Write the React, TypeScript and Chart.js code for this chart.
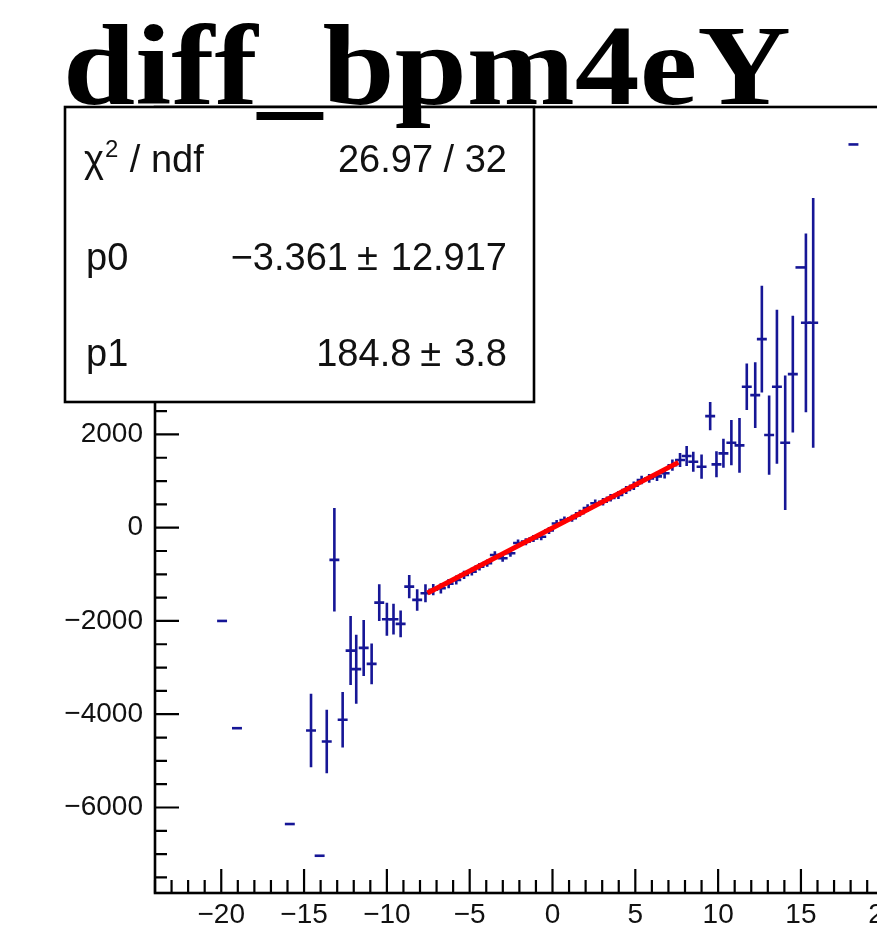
import React, { useEffect, useRef } from 'react';
import { Chart, registerables } from 'chart.js';

Chart.register(...registerables);

// ---------- data ----------
const titleText = 'diff_bpm4eY';

const X_MIN = -24;
const X_MAX = 24;
const Y_MIN = -7834;
const Y_MAX = 9021;

const xTickValues = [-20, -15, -10, -5, 0, 5, 10, 15, 20];
const yTickValues = [-6000, -4000, -2000, 0, 2000, 4000, 6000, 8000];

const binHalfWidth = 0.3;

const xVals = [
  -19.95, -19.05, -15.86, -14.58, -14.06, -13.63, -13.17, -12.67, -12.19, -11.85,
  -11.4, -10.92, -10.46, -10.0, -9.6, -9.17, -8.65, -8.17,
  -7.67, -7.2, -6.74, -6.27, -5.81, -5.34, -4.87, -4.41, -3.94, -3.48,
  -3.01, -2.54, -2.08, -1.61, -1.15, -0.68, -0.21, 0.25, 0.72, 1.18,
  1.65, 2.12, 2.58, 3.05, 3.51, 3.98, 4.45, 4.91, 5.38, 5.84,
  6.31, 6.77, 7.24, 7.7,
  8.1, 8.5, 9.0, 9.52, 9.9, 10.32, 10.8, 11.29, 11.73, 12.24,
  12.64, 13.08, 13.55, 14.05, 14.51, 14.97, 15.3, 15.74, 18.17,
];

const yVals = [
  -2000, -4300, -6355, -4350, -7035, -4585, -690, -4120, -2636, -3034,
  -2578, -2920, -1607, -1963, -1963, -2063, -1264, -1549,
  -1406, -1330, -1300, -1200, -1121, -1013, -943, -836, -760, -585,
  -656, -549, -330, -300, -230, -193, -60, 90, 165, 201,
  309, 420, 523, 557, 640, 701, 808, 900, 1022, 1058,
  1100, 1166, 1340, 1450,
  1536, 1414, 1307, 2393, 1358, 1594, 1822, 1765, 3022, 2843,
  4043, 1986, 3022, 1822, 3293, 5581, 4393, 4393, 8218,
];

const yErrs = [
  0, 0, 0, 790, 0, 680, 1110, 595, 740, 740,
  600, 435, 395, 355, 330, 285, 250, 230,
  195, 120, 110, 100, 95, 90, 85, 80, 80, 80,
  75, 75, 75, 75, 75, 75, 75, 75, 75, 75,
  75, 80, 80, 80, 80, 85, 85, 90, 90, 95,
  100, 110, 120, 150,
  214, 214, 260, 304, 279, 311, 486, 589, 500, 707,
  1143, 850, 1650, 1443, 1250, 0, 1918, 2678, 0,
];

const fitX = [-7.55, 7.6];
const fitY = [-1399, 1401];

const statsLabels = ['χ2 / ndf', 'p0', 'p1'];
const statsValues = ['26.97 / 32', '−3.361 ± 12.917', '184.8 ± 3.8'];

// ---------- styling ----------
const SANS = '"Liberation Sans", Arial, Helvetica, sans-serif';
const SERIF = '"Liberation Serif", "Times New Roman", serif';
const MARK_COLOR = 'rgb(22,22,150)';

const fmt = (v: number) => (v < 0 ? '\u2212' + Math.abs(v) : String(v));

const rootPlugin = {
  id: 'rootStyle',
  beforeDatasetsDraw(chart: any) {
    const { ctx, chartArea, scales } = chart;
    const xs = scales.x;
    const ys = scales.y;
    ctx.save();
    ctx.beginPath();
    ctx.rect(chartArea.left, chartArea.top, chartArea.right - chartArea.left, chartArea.bottom - chartArea.top);
    ctx.clip();
    ctx.strokeStyle = MARK_COLOR;
    ctx.lineWidth = 2.6;
    ctx.lineCap = 'butt';
    for (let i = 0; i < xVals.length; i++) {
      const px = xs.getPixelForValue(xVals[i]);
      const py = ys.getPixelForValue(yVals[i]);
      const x0 = xs.getPixelForValue(xVals[i] - binHalfWidth);
      const x1 = xs.getPixelForValue(xVals[i] + binHalfWidth);
      ctx.beginPath();
      ctx.moveTo(x0, py);
      ctx.lineTo(x1, py);
      if (yErrs[i] > 0) {
        const y0 = ys.getPixelForValue(yVals[i] - yErrs[i]);
        const y1 = ys.getPixelForValue(yVals[i] + yErrs[i]);
        ctx.moveTo(px, y0);
        ctx.lineTo(px, y1);
      }
      ctx.stroke();
    }
    ctx.restore();
  },
  afterDraw(chart: any) {
    const { ctx, chartArea, scales } = chart;
    const xs = scales.x;
    const ys = scales.y;
    const { left, right, top, bottom } = chartArea;
    ctx.save();
    // frame
    ctx.strokeStyle = '#000';
    ctx.lineWidth = 2.6;
    ctx.strokeRect(left, top, right - left, bottom - top);
    // x ticks (inward)
    ctx.lineWidth = 2.2;
    ctx.beginPath();
    for (let v = Math.ceil(X_MIN); v <= X_MAX; v += 1) {
      const px = xs.getPixelForValue(v);
      const len = v % 5 === 0 ? 24 : 13;
      ctx.moveTo(px, bottom);
      ctx.lineTo(px, bottom - len);
    }
    // y ticks (inward)
    for (let v = -7500; v <= Y_MAX; v += 500) {
      const py = ys.getPixelForValue(v);
      const len = v % 2000 === 0 ? 24 : 12;
      ctx.moveTo(left, py);
      ctx.lineTo(left + len, py);
    }
    ctx.stroke();

    // stats box
    const bx = 65, by = 107, bw = 469, bh = 295;
    ctx.fillStyle = '#fff';
    ctx.fillRect(bx, by, bw, bh);
    ctx.lineWidth = 2.6;
    ctx.strokeStyle = '#000';
    ctx.strokeRect(bx, by, bw, bh);
    ctx.fillStyle = '#111';
    const rowBase = [172, 270, 366];
    ctx.textBaseline = 'alphabetic';
    for (let r = 0; r < statsLabels.length; r++) {
      const lab = statsLabels[r];
      ctx.textAlign = 'left';
      if (lab.startsWith('χ')) {
        ctx.font = `38px ${SANS}`;
        ctx.fillText('χ', 84, rowBase[r]);
        const w = ctx.measureText('χ').width;
        ctx.font = `24px ${SANS}`;
        ctx.fillText('2', 84 + w + 1, rowBase[r] - 15);
        const w2 = ctx.measureText('2').width;
        ctx.font = `38px ${SANS}`;
        ctx.fillText(lab.slice(2), 84 + w + w2 + 2, rowBase[r]);
      } else {
        ctx.font = `38px ${SANS}`;
        ctx.fillText(lab, 86, rowBase[r]);
      }
      ctx.textAlign = 'right';
      ctx.font = `38px ${SANS}`;
      const val = statsValues[r];
      const parts = val.split(' ± ');
      if (parts.length === 2) {
        const rightX = 507;
        const wR = ctx.measureText(parts[1]).width;
        ctx.fillText(parts[1], rightX, rowBase[r]);
        const pmX = rightX - wR - 13;
        ctx.fillText('±', pmX, rowBase[r]);
        const wPm = ctx.measureText('±').width;
        ctx.fillText(parts[0], pmX - wPm - 9, rowBase[r]);
      } else {
        ctx.fillText(val, 507, rowBase[r]);
      }
    }

    // title
    ctx.font = `bold 114px ${SERIF}`;
    ctx.textAlign = 'left';
    ctx.textBaseline = 'alphabetic';
    const tw = ctx.measureText(titleText).width;
    const targetW = 728;
    ctx.fillStyle = '#000';
    ctx.translate(63, 104);
    ctx.scale(targetW / tw, 1);
    ctx.fillText(titleText, 0, 0);
    ctx.restore();
  },
};

export default function App() {
  const ref = useRef<HTMLCanvasElement | null>(null);
  useEffect(() => {
    if (!ref.current) return;
    const chart = new Chart(ref.current, {
      type: 'scatter',
      data: {
        datasets: [
          {
            type: 'scatter',
            data: xVals.map((x, i) => ({ x, y: yVals[i] })),
            pointRadius: 0,
            showLine: false,
          },
          {
            type: 'line',
            data: fitX.map((x, i) => ({ x, y: fitY[i] })),
            borderColor: '#ff0000',
            borderWidth: 5,
            pointRadius: 0,
            fill: false,
          },
        ],
      } as any,
      options: {
        responsive: false,
        animation: false,
        devicePixelRatio: 1,
        layout: { padding: { top: 107, right: 50, left: 0, bottom: 0 } },
        plugins: {
          legend: { display: false },
          tooltip: { enabled: false },
          title: { display: false },
        },
        scales: {
          x: {
            type: 'linear',
            min: X_MIN,
            max: X_MAX,
            afterBuildTicks: (s: any) => {
              s.ticks = xTickValues.map((v) => ({ value: v }));
            },
            afterFit: (s: any) => {
              s.height = 56;
            },
            ticks: {
              autoSkip: false,
              maxRotation: 0,
              minRotation: 0,
              padding: 5,
              color: '#111',
              font: { family: SANS, size: 28 },
              callback: (v: any) => fmt(Number(v)),
            },
            grid: { display: false, drawTicks: false },
            border: { display: false },
          },
          y: {
            type: 'linear',
            min: Y_MIN,
            max: Y_MAX,
            afterBuildTicks: (s: any) => {
              s.ticks = yTickValues.map((v) => ({ value: v }));
            },
            afterFit: (s: any) => {
              s.width = 155;
            },
            ticks: {
              autoSkip: false,
              padding: 12,
              color: '#111',
              font: { family: SANS, size: 28 },
              callback: (v: any) => fmt(Number(v)),
            },
            grid: { display: false, drawTicks: false },
            border: { display: false },
          },
        },
      } as any,
      plugins: [rootPlugin],
    });
    return () => chart.destroy();
  }, []);
  return (
    <div
      style={{
        position: 'absolute',
        left: 0,
        top: 0,
        width: 877,
        height: 949,
        overflow: 'hidden',
        background: '#fff',
      }}
    >
      <canvas ref={ref} width={1000} height={949} style={{ display: 'block' }} />
    </div>
  );
}
